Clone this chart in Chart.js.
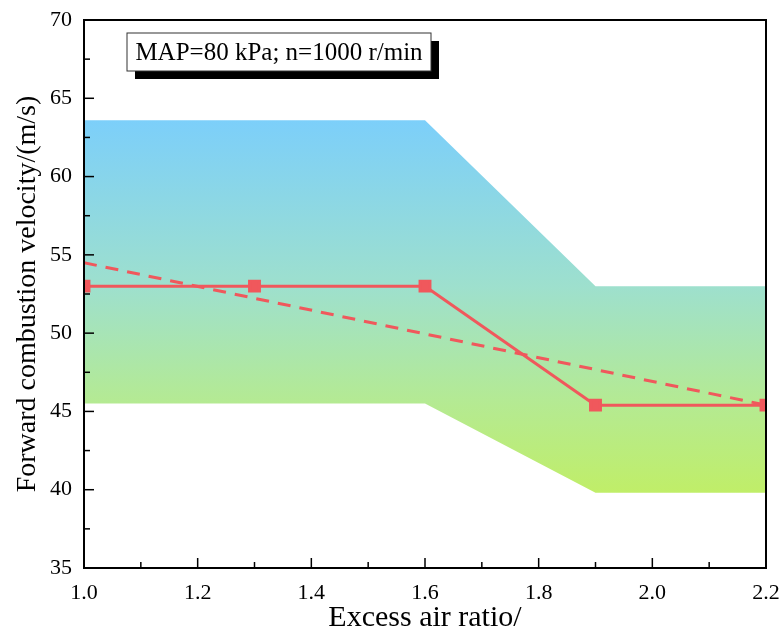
<!DOCTYPE html>
<html>
<head>
<meta charset="utf-8">
<script src="https://cdn.jsdelivr.net/npm/chart.js@4.4.0/dist/chart.umd.min.js"></script>
<style>
  html, body { margin: 0; padding: 0; background: #fff; }
  #wrap { width: 781px; height: 634px; }
</style>
</head>
<body>
<div id="wrap"><canvas id="myChart"></canvas></div>
<script>
// Dados
var bandX = [1.0, 1.6, 1.9, 2.2];
var bandUpper = [63.6, 63.6, 53.0, 53.0];
var bandLower = [45.5, 45.5, 39.8, 39.8];
var ratioX = [1.0, 1.3, 1.6, 1.9, 2.2];
var velocity = [53.0, 53.0, 53.0, 45.4, 45.4];
var trendX = [1.0, 2.2];
var trendY = [54.5, 45.4];
var noteText = 'MAP=80 kPa; n=1000 r/min';

function pts(xs, ys) {
    return xs.map(function(x, i) { return { x: x, y: ys[i] }; });
}

var serif = '"Liberation Serif", "Times New Roman", serif';
var red = 'rgb(240, 88, 92)';

// Gradiente vertical da faixa (azul em cima, verde embaixo)
function bandGradient(context) {
    var chart = context.chart;
    if (!chart.chartArea) return 'rgba(0,0,0,0)';
    var y = chart.scales.y;
    var g = chart.ctx.createLinearGradient(0, y.getPixelForValue(63.6), 0, y.getPixelForValue(39.8));
    g.addColorStop(0, 'rgb(124, 207, 250)');
    g.addColorStop(0.45, 'rgb(158, 224, 205)');
    g.addColorStop(0.75, 'rgb(180, 234, 148)');
    g.addColorStop(1, 'rgb(192, 238, 104)');
    return g;
}

// Ticks para dentro, com ticks menores, e a caixa de texto
var decorPlugin = {
    id: 'decor',
    afterDraw: function(chart) {
        var ctx = chart.ctx;
        var a = chart.chartArea;
        var xs = chart.scales.x, ys = chart.scales.y;
        ctx.save();
        ctx.strokeStyle = '#000';
        ctx.lineWidth = 2;
        ctx.strokeRect(a.left, a.top, a.right - a.left, a.bottom - a.top);
        ctx.lineWidth = 1.5;
        for (var i = 0; i <= 12; i++) {
            var v = 1.0 + i * 0.1;
            var px = xs.getPixelForValue(v);
            var len = (i % 2 === 0) ? 10 : 6;
            ctx.beginPath();
            ctx.moveTo(px, a.bottom);
            ctx.lineTo(px, a.bottom - len);
            ctx.stroke();
        }
        for (var j = 0; j <= 14; j++) {
            var val = 35 + j * 2.5;
            var py = ys.getPixelForValue(val);
            var l2 = (j % 2 === 0) ? 10 : 6;
            ctx.beginPath();
            ctx.moveTo(a.left, py);
            ctx.lineTo(a.left + l2, py);
            ctx.stroke();
        }
        // caixa com sombra
        var bx = a.left + 43, by = a.top + 13, bw = 304, bh = 38;
        ctx.fillStyle = '#000';
        ctx.fillRect(bx + 8, by + 8, bw, bh);
        ctx.fillStyle = '#fff';
        ctx.fillRect(bx, by, bw, bh);
        ctx.lineWidth = 1;
        ctx.strokeStyle = '#333';
        ctx.strokeRect(bx, by, bw, bh);
        ctx.fillStyle = '#000';
        ctx.font = '25px ' + serif;
        ctx.textBaseline = 'middle';
        ctx.textAlign = 'center';
        ctx.fillText(noteText, bx + bw / 2, by + bh / 2 + 1);
        ctx.restore();
    }
};

var ctx = document.getElementById('myChart').getContext('2d');
var myChart = new Chart(ctx, {
    type: 'line',
    data: {
        datasets: [
            {
                data: pts(bandX, bandUpper),
                borderWidth: 0,
                pointRadius: 0,
                fill: '+1',
                backgroundColor: bandGradient,
                order: 3
            },
            {
                data: pts(bandX, bandLower),
                borderWidth: 0,
                pointRadius: 0,
                fill: false,
                order: 3
            },
            {
                data: pts(trendX, trendY),
                borderColor: red,
                borderWidth: 3,
                borderDash: [13, 9],
                pointRadius: 0,
                fill: false,
                order: 2
            },
            {
                data: pts(ratioX, velocity),
                borderColor: red,
                borderWidth: 3,
                pointStyle: 'rect',
                pointRadius: 7,
                pointBackgroundColor: red,
                pointBorderColor: red,
                fill: false,
                order: 1
            }
        ]
    },
    options: {
        responsive: true,
        maintainAspectRatio: false,
        animation: false,
        layout: { padding: { top: 20, right: 15, left: 0, bottom: 0 } },
        plugins: {
            legend: { display: false },
            tooltip: { enabled: false }
        },
        scales: {
            x: {
                type: 'linear',
                min: 1.0,
                max: 2.2,
                border: { display: false },
                grid: { display: false, drawTicks: false },
                ticks: {
                    stepSize: 0.2,
                    color: '#000',
                    font: { family: serif, size: 22 },
                    maxRotation: 0,
                    padding: 12,
                    callback: function(v) { return v.toFixed(1); }
                },
                title: {
                    display: true,
                    text: 'Excess air ratio/',
                    color: '#000',
                    font: { family: serif, size: 30, lineHeight: 1.0 },
                    padding: { top: 0, bottom: 1 }
                },
                afterFit: function(scale) {
                    scale.height = 66;
                    scale.paddingLeft = 0;
                    scale.paddingRight = 0;
                }
            },
            y: {
                min: 35,
                max: 70,
                border: { display: false },
                grid: { display: false, drawTicks: false },
                ticks: {
                    stepSize: 5,
                    color: '#000',
                    font: { family: serif, size: 22 },
                    padding: 12
                },
                title: {
                    display: true,
                    text: 'Forward combustion velocity/(m/s)',
                    color: '#000',
                    font: { family: serif, size: 28 },
                    padding: { top: 11, bottom: 4 }
                },
                afterFit: function(scale) {
                    scale.width = 84;
                    scale.paddingTop = 0;
                    scale.paddingBottom = 0;
                }
            }
        }
    },
    plugins: [decorPlugin]
});
</script>
</body>
</html>
